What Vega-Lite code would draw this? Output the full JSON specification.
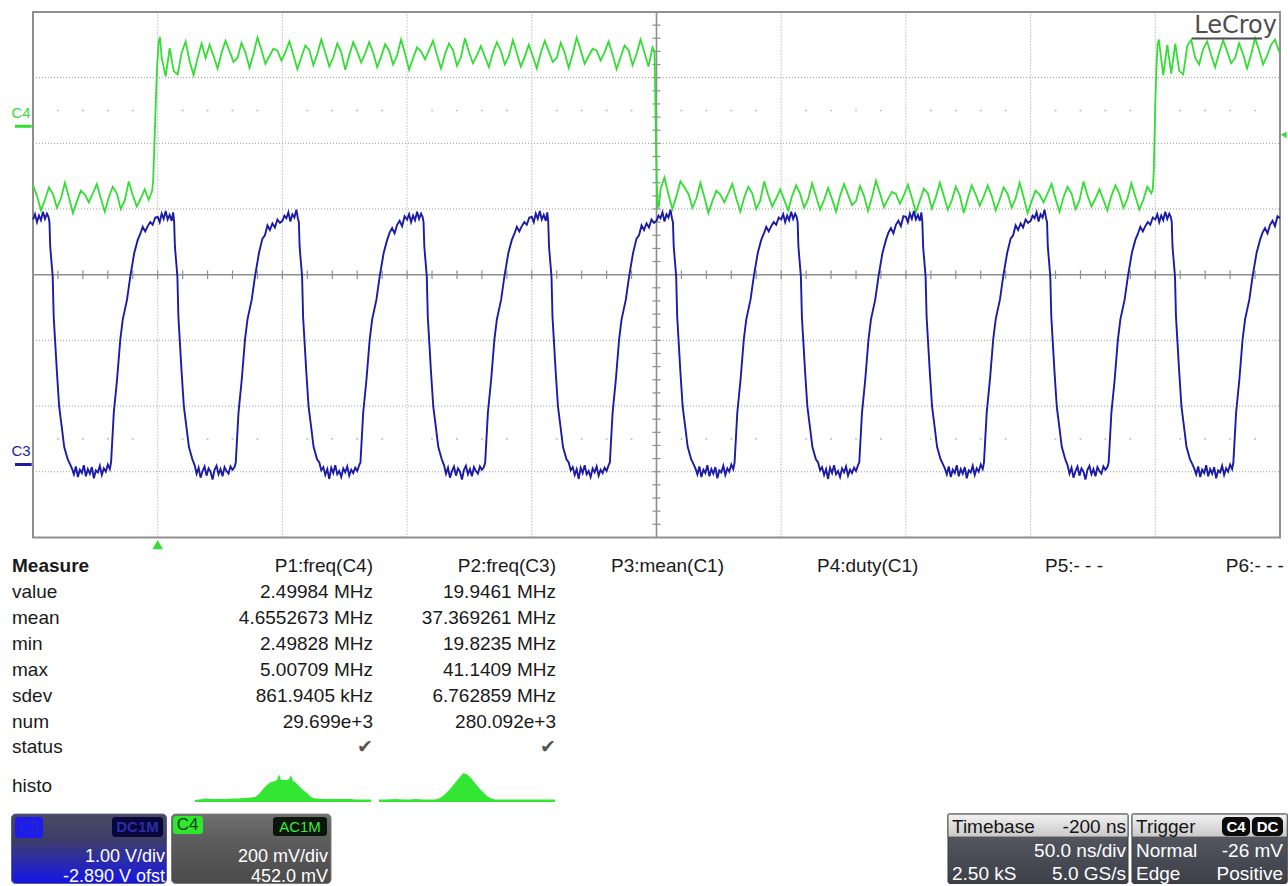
{
"$schema":"https://vega.github.io/schema/vega-lite/v6.json",
"width":1288,"height":886,
"autosize":{"type":"fit","contains":"padding"},
"padding":0,
"background":"#ffffff",
"config":{"view":{"stroke":null},"axis":{"disable":true},"text":{"font":"Liberation Sans"}},
"datasets":{
"c4":[{"t":-50,"v":1.36},{"t":-48.4,"v":1.20},{"t":-46.8,"v":0.98},{"t":-45.2,"v":1.14},{"t":-43.6,"v":1.33},{"t":-42,"v":1.23},{"t":-40.4,"v":1.02},{"t":-38.8,"v":1.16},{"t":-37.2,"v":1.40},{"t":-35.6,"v":1.18},{"t":-34,"v":0.94},{"t":-32.4,"v":1.12},{"t":-30.8,"v":1.28},{"t":-29.2,"v":1.22},{"t":-27.6,"v":1.10},{"t":-26,"v":1.24},{"t":-24.4,"v":1.38},{"t":-22.8,"v":1.16},{"t":-21.2,"v":0.96},{"t":-19.6,"v":1.18},{"t":-18,"v":1.34},{"t":-16.4,"v":1.24},{"t":-14.8,"v":1.00},{"t":-13.2,"v":1.13},{"t":-11.6,"v":1.42},{"t":-10,"v":1.21},{"t":-8.4,"v":1.04},{"t":-6.8,"v":1.16},{"t":-5.2,"v":1.30},{"t":-3.6,"v":1.14},
{"t":-2.2,"v":1.28},{"t":-1.8,"v":1.45},{"t":-1.4,"v":1.90},{"t":-1.0,"v":2.35},{"t":-0.6,"v":2.80},{"t":-0.2,"v":3.20},{"t":0.4,"v":3.55},{"t":0.9,"v":3.62},
{"t":1.6,"v":3.30},{"t":3.2,"v":3.02},{"t":4.8,"v":3.45},{"t":6.4,"v":3.10},{"t":8.0,"v":3.05},{"t":9.6,"v":3.38},{"t":11.2,"v":3.55},{"t":12.8,"v":3.25},{"t":14.4,"v":3.04},{"t":16.0,"v":3.30},{"t":17.6,"v":3.52},{"t":19.2,"v":3.30},
{"t":20.8,"v":3.50},{"t":22.4,"v":3.33},{"t":24.0,"v":3.14},{"t":25.6,"v":3.38},{"t":27.2,"v":3.56},{"t":28.8,"v":3.40},{"t":30.4,"v":3.24},{"t":32.0,"v":3.30},{"t":33.6,"v":3.53},{"t":35.2,"v":3.38},{"t":36.8,"v":3.15},{"t":38.4,"v":3.36},{"t":40.0,"v":3.61},{"t":41.6,"v":3.42},{"t":43.2,"v":3.21},{"t":44.8,"v":3.33},{"t":46.4,"v":3.44},{"t":48.0,"v":3.41},{"t":49.6,"v":3.26},{"t":51.2,"v":3.39},{"t":52.8,"v":3.55},{"t":54.4,"v":3.35},{"t":56.0,"v":3.13},{"t":57.6,"v":3.31},{"t":59.2,"v":3.49},{"t":60.8,"v":3.42},{"t":62.4,"v":3.19},{"t":64.0,"v":3.36},{"t":65.6,"v":3.58},{"t":67.2,"v":3.38},{"t":68.8,"v":3.17},{"t":70.4,"v":3.31},{"t":72.0,"v":3.52},{"t":73.6,"v":3.39},{"t":75.2,"v":3.12},{"t":76.8,"v":3.34},{"t":78.4,"v":3.54},{"t":80.0,"v":3.40},{"t":81.6,"v":3.23},{"t":83.2,"v":3.37},
{"t":84.8,"v":3.54},{"t":86.4,"v":3.38},{"t":88.0,"v":3.16},{"t":89.6,"v":3.32},{"t":91.2,"v":3.51},{"t":92.8,"v":3.41},{"t":94.4,"v":3.20},{"t":96.0,"v":3.34},{"t":97.6,"v":3.58},{"t":99.2,"v":3.36},{"t":100.8,"v":3.12},{"t":102.4,"v":3.30},{"t":104.0,"v":3.46},{"t":105.6,"v":3.40},{"t":107.2,"v":3.28},{"t":108.8,"v":3.42},{"t":110.4,"v":3.56},{"t":112.0,"v":3.34},{"t":113.6,"v":3.14},{"t":115.2,"v":3.36},{"t":116.8,"v":3.52},{"t":118.4,"v":3.42},{"t":120.0,"v":3.18},{"t":121.6,"v":3.31},{"t":123.2,"v":3.60},{"t":124.8,"v":3.39},{"t":126.4,"v":3.22},{"t":128.0,"v":3.34},{"t":129.6,"v":3.48},{"t":131.2,"v":3.32},{"t":132.8,"v":3.16},{"t":134.4,"v":3.38},{"t":136.0,"v":3.54},{"t":137.6,"v":3.41},{"t":139.2,"v":3.20},{"t":140.8,"v":3.33},{"t":142.4,"v":3.57},{"t":144.0,"v":3.37},{"t":145.6,"v":3.17},{"t":147.2,"v":3.32},
{"t":148.8,"v":3.50},{"t":150.4,"v":3.33},{"t":152.0,"v":3.14},{"t":153.6,"v":3.38},{"t":155.2,"v":3.56},{"t":156.8,"v":3.40},{"t":158.4,"v":3.24},{"t":160.0,"v":3.30},{"t":161.6,"v":3.53},{"t":163.2,"v":3.38},{"t":164.8,"v":3.15},{"t":166.4,"v":3.36},{"t":168.0,"v":3.61},{"t":169.6,"v":3.42},{"t":171.2,"v":3.21},{"t":172.8,"v":3.33},{"t":174.4,"v":3.44},{"t":176.0,"v":3.41},{"t":177.6,"v":3.26},{"t":179.2,"v":3.39},{"t":180.8,"v":3.55},{"t":182.4,"v":3.35},{"t":184.0,"v":3.13},{"t":185.6,"v":3.31},{"t":187.2,"v":3.49},{"t":188.8,"v":3.42},{"t":190.4,"v":3.19},{"t":192.0,"v":3.36},{"t":193.6,"v":3.58},{"t":195.2,"v":3.38},{"t":196.8,"v":3.17},{"t":198.4,"v":3.46},
{"t":199.2,"v":3.40},{"t":199.5,"v":2.80},{"t":199.8,"v":2.00},{"t":200.1,"v":1.40},{"t":200.5,"v":1.02},{"t":201.0,"v":1.05},
{"t":201.6,"v":1.30},{"t":203.2,"v":1.48},{"t":204.8,"v":1.22},{"t":206.4,"v":1.00},{"t":208.0,"v":1.20},{"t":209.6,"v":1.42},{"t":211.2,"v":1.33},{"t":212.8,"v":1.23},{"t":214.4,"v":1.02},{"t":216.0,"v":1.16},{"t":217.6,"v":1.40},{"t":219.2,"v":1.18},{"t":220.8,"v":0.94},{"t":222.4,"v":1.12},{"t":224.0,"v":1.28},{"t":225.6,"v":1.22},{"t":227.2,"v":1.10},{"t":228.8,"v":1.24},{"t":230.4,"v":1.38},{"t":232.0,"v":1.16},{"t":233.6,"v":0.96},{"t":235.2,"v":1.18},{"t":236.8,"v":1.34},{"t":238.4,"v":1.24},{"t":240.0,"v":1.00},{"t":241.6,"v":1.13},{"t":243.2,"v":1.42},{"t":244.8,"v":1.21},{"t":246.4,"v":1.04},{"t":248.0,"v":1.16},{"t":249.6,"v":1.30},{"t":251.2,"v":1.14},{"t":252.8,"v":0.98},{"t":254.4,"v":1.20},{"t":256.0,"v":1.36},{"t":257.6,"v":1.23},{"t":259.2,"v":1.02},{"t":260.8,"v":1.15},{"t":262.4,"v":1.39},{"t":264.0,"v":1.19},{"t":265.6,"v":0.99},{"t":267.2,"v":1.14},
{"t":268.8,"v":1.32},{"t":270.4,"v":1.15},{"t":272.0,"v":0.96},{"t":273.6,"v":1.20},{"t":275.2,"v":1.38},{"t":276.8,"v":1.22},{"t":278.4,"v":1.06},{"t":280.0,"v":1.12},{"t":281.6,"v":1.35},{"t":283.2,"v":1.20},{"t":284.8,"v":0.97},{"t":286.4,"v":1.18},{"t":288.0,"v":1.43},{"t":289.6,"v":1.24},{"t":291.2,"v":1.03},{"t":292.8,"v":1.15},{"t":294.4,"v":1.26},{"t":296.0,"v":1.23},{"t":297.6,"v":1.08},{"t":299.2,"v":1.21},{"t":300.8,"v":1.37},{"t":302.4,"v":1.17},{"t":304.0,"v":0.95},{"t":305.6,"v":1.13},{"t":307.2,"v":1.31},{"t":308.8,"v":1.24},{"t":310.4,"v":1.01},{"t":312.0,"v":1.18},{"t":313.6,"v":1.40},{"t":315.2,"v":1.20},{"t":316.8,"v":0.99},{"t":318.4,"v":1.13},{"t":320.0,"v":1.34},{"t":321.6,"v":1.21},{"t":323.2,"v":0.94},{"t":324.8,"v":1.16},{"t":326.4,"v":1.36},{"t":328.0,"v":1.22},{"t":329.6,"v":1.05},{"t":331.2,"v":1.19},
{"t":332.8,"v":1.36},{"t":334.4,"v":1.20},{"t":336.0,"v":0.98},{"t":337.6,"v":1.14},{"t":339.2,"v":1.33},{"t":340.8,"v":1.23},{"t":342.4,"v":1.02},{"t":344.0,"v":1.16},{"t":345.6,"v":1.40},{"t":347.2,"v":1.18},{"t":348.8,"v":0.94},{"t":350.4,"v":1.12},{"t":352.0,"v":1.28},{"t":353.6,"v":1.22},{"t":355.2,"v":1.10},{"t":356.8,"v":1.24},{"t":358.4,"v":1.38},{"t":360.0,"v":1.16},{"t":361.6,"v":0.96},{"t":363.2,"v":1.18},{"t":364.8,"v":1.34},{"t":366.4,"v":1.24},{"t":368.0,"v":1.00},{"t":369.6,"v":1.13},{"t":371.2,"v":1.42},{"t":372.8,"v":1.21},{"t":374.4,"v":1.04},{"t":376.0,"v":1.16},{"t":377.6,"v":1.30},{"t":379.2,"v":1.14},{"t":380.8,"v":0.98},{"t":382.4,"v":1.20},{"t":384.0,"v":1.36},{"t":385.6,"v":1.23},{"t":387.2,"v":1.02},{"t":388.8,"v":1.15},{"t":390.4,"v":1.39},{"t":392.0,"v":1.19},{"t":393.6,"v":0.99},{"t":395.2,"v":1.14},{"t":396.8,"v":1.34},{"t":398.4,"v":1.24},
{"t":399.0,"v":1.30},{"t":399.4,"v":1.60},{"t":399.7,"v":2.10},{"t":400.0,"v":2.60},{"t":400.4,"v":3.10},{"t":400.9,"v":3.50},{"t":401.4,"v":3.58},
{"t":403.2,"v":3.04},{"t":404.8,"v":3.50},{"t":406.4,"v":3.06},{"t":408.0,"v":3.52},{"t":409.6,"v":3.10},{"t":411.2,"v":3.05},{"t":412.8,"v":3.48},{"t":414.4,"v":3.58},{"t":416.0,"v":3.30},{"t":417.6,"v":3.20},{"t":419.2,"v":3.44},{"t":420.8,"v":3.55},{"t":422.4,"v":3.34},{"t":424.0,"v":3.16},{"t":425.6,"v":3.38},{"t":427.2,"v":3.57},{"t":428.8,"v":3.40},{"t":430.4,"v":3.22},{"t":432.0,"v":3.30},{"t":433.6,"v":3.52},{"t":435.2,"v":3.36},{"t":436.8,"v":3.14},{"t":438.4,"v":3.35},{"t":440.0,"v":3.60},{"t":441.6,"v":3.42},{"t":443.2,"v":3.20},{"t":444.8,"v":3.33},{"t":446.4,"v":3.50},{"t":448.0,"v":3.58},{"t":449.6,"v":3.40},{"t":450,"v":3.38}],
"c3":[{"t":-50,"v":0.84},{"t":-49.2,"v":0.92},{"t":-48.4,"v":0.80},{"t":-47.6,"v":0.90},{"t":-46.8,"v":0.83},{"t":-46.0,"v":0.96},{"t":-45.2,"v":0.85},{"t":-44.4,"v":0.93},{"t":-43.8,"v":0.88},
{"t":-43.4,"v":0.80},{"t":-43.1,"v":0.43},{"t":-42.1,"v":-0.03},{"t":-41.7,"v":-0.64},{"t":-41.1,"v":-1.03},{"t":-40.4,"v":-1.49},{"t":-39.5,"v":-2.01},{"t":-38.5,"v":-2.31},{"t":-37.5,"v":-2.62},{"t":-36.1,"v":-2.81},
{"t":-35.2,"v":-2.88},{"t":-34.4,"v":-2.95},{"t":-33.6,"v":-3.04},{"t":-32.8,"v":-2.92},{"t":-32.0,"v":-3.08},{"t":-31.2,"v":-2.97},{"t":-30.4,"v":-3.02},{"t":-29.6,"v":-2.90},{"t":-28.8,"v":-3.07},{"t":-28.0,"v":-2.96},{"t":-27.2,"v":-3.03},{"t":-26.4,"v":-2.93},{"t":-25.6,"v":-3.10},{"t":-24.8,"v":-2.98},{"t":-24.0,"v":-3.01},{"t":-23.2,"v":-2.91},{"t":-22.4,"v":-3.05},{"t":-21.6,"v":-2.95},{"t":-20.8,"v":-3.00},{"t":-20.0,"v":-2.89},{"t":-19.2,"v":-2.96},
{"t":-18.7,"v":-2.86},{"t":-17.6,"v":-2.10},{"t":-16.3,"v":-1.60},{"t":-15.0,"v":-0.99},{"t":-14.0,"v":-0.68},{"t":-12.3,"v":-0.38},{"t":-11.0,"v":-0.03},{"t":-9.4,"v":0.33},{"t":-8.0,"v":0.53},{"t":-7.0,"v":0.62},{"t":-6.0,"v":0.73},{"t":-5.0,"v":0.66},{"t":-4.0,"v":0.74},{"t":-3.0,"v":0.80},{"t":-2.0,"v":0.76},{"t":-1.0,"v":0.87},
{"t":0,"v":0.88},{"t":0.8,"v":0.80},{"t":1.6,"v":0.93},{"t":2.4,"v":0.85},{"t":3.2,"v":0.97},{"t":4.0,"v":0.84},{"t":4.8,"v":0.91},{"t":5.6,"v":0.82},{"t":6.2,"v":0.95},
{"t":6.6,"v":0.80},{"t":6.9,"v":0.43},{"t":7.9,"v":-0.03},{"t":8.3,"v":-0.64},{"t":8.9,"v":-1.03},{"t":9.6,"v":-1.49},{"t":10.5,"v":-2.01},{"t":11.5,"v":-2.31},{"t":12.5,"v":-2.62},{"t":13.9,"v":-2.81},
{"t":14.8,"v":-2.90},{"t":15.6,"v":-3.03},{"t":16.4,"v":-2.94},{"t":17.2,"v":-3.09},{"t":18.0,"v":-2.99},{"t":18.8,"v":-2.92},{"t":19.6,"v":-3.06},{"t":20.4,"v":-2.95},{"t":21.2,"v":-3.00},{"t":22.0,"v":-3.12},{"t":22.8,"v":-2.97},{"t":23.6,"v":-2.91},{"t":24.4,"v":-3.04},{"t":25.2,"v":-2.96},{"t":26.0,"v":-3.07},{"t":26.8,"v":-2.93},{"t":27.6,"v":-2.99},{"t":28.4,"v":-3.03},{"t":29.2,"v":-2.92},{"t":30.0,"v":-2.97},{"t":30.8,"v":-2.93},
{"t":31.3,"v":-2.86},{"t":32.4,"v":-2.10},{"t":33.7,"v":-1.60},{"t":35.0,"v":-0.99},{"t":36.0,"v":-0.68},{"t":37.7,"v":-0.38},{"t":39.0,"v":-0.03},{"t":40.6,"v":0.33},{"t":42.0,"v":0.55},{"t":43.0,"v":0.60},{"t":44.0,"v":0.75},{"t":45.0,"v":0.68},{"t":46.0,"v":0.78},{"t":47.0,"v":0.72},{"t":48.0,"v":0.84},{"t":49.0,"v":0.79},
{"t":50,"v":0.82},{"t":50.8,"v":0.90},{"t":51.6,"v":0.86},{"t":52.4,"v":0.95},{"t":53.2,"v":0.81},{"t":54.0,"v":0.92},{"t":54.8,"v":0.87},{"t":55.6,"v":0.99},{"t":56.2,"v":0.86},
{"t":56.6,"v":0.80},{"t":56.9,"v":0.43},{"t":57.9,"v":-0.03},{"t":58.3,"v":-0.64},{"t":58.9,"v":-1.03},{"t":59.6,"v":-1.49},{"t":60.5,"v":-2.01},{"t":61.5,"v":-2.31},{"t":62.5,"v":-2.62},{"t":63.9,"v":-2.81},
{"t":64.8,"v":-2.86},{"t":65.6,"v":-2.98},{"t":66.4,"v":-2.93},{"t":67.2,"v":-3.05},{"t":68.0,"v":-2.96},{"t":68.8,"v":-3.11},{"t":69.6,"v":-2.94},{"t":70.4,"v":-3.02},{"t":71.2,"v":-2.90},{"t":72.0,"v":-3.04},{"t":72.8,"v":-2.99},{"t":73.6,"v":-3.08},{"t":74.4,"v":-2.95},{"t":75.2,"v":-3.01},{"t":76.0,"v":-2.92},{"t":76.8,"v":-3.06},{"t":77.6,"v":-2.97},{"t":78.4,"v":-3.02},{"t":79.2,"v":-2.94},{"t":80.0,"v":-2.99},{"t":80.8,"v":-2.90},
{"t":81.3,"v":-2.86},{"t":82.4,"v":-2.10},{"t":83.7,"v":-1.60},{"t":85.0,"v":-0.99},{"t":86.0,"v":-0.68},{"t":87.7,"v":-0.38},{"t":89.0,"v":-0.03},{"t":90.6,"v":0.33},{"t":92.0,"v":0.53},{"t":93.0,"v":0.64},{"t":94.0,"v":0.71},{"t":95.0,"v":0.63},{"t":96.0,"v":0.76},{"t":97.0,"v":0.82},{"t":98.0,"v":0.74},{"t":99.0,"v":0.89},
{"t":100,"v":0.84},{"t":100.8,"v":0.92},{"t":101.6,"v":0.80},{"t":102.4,"v":0.90},{"t":103.2,"v":0.83},{"t":104.0,"v":0.96},{"t":104.8,"v":0.85},{"t":105.6,"v":0.93},{"t":106.2,"v":0.88},
{"t":106.6,"v":0.80},{"t":106.9,"v":0.43},{"t":107.9,"v":-0.03},{"t":108.3,"v":-0.64},{"t":108.9,"v":-1.03},{"t":109.6,"v":-1.49},{"t":110.5,"v":-2.01},{"t":111.5,"v":-2.31},{"t":112.5,"v":-2.62},{"t":113.9,"v":-2.81},
{"t":114.8,"v":-2.90},{"t":115.6,"v":-3.03},{"t":116.4,"v":-2.94},{"t":117.2,"v":-3.09},{"t":118.0,"v":-2.99},{"t":118.8,"v":-2.92},{"t":119.6,"v":-3.06},{"t":120.4,"v":-2.95},{"t":121.2,"v":-3.00},{"t":122.0,"v":-3.12},{"t":122.8,"v":-2.97},{"t":123.6,"v":-2.91},{"t":124.4,"v":-3.04},{"t":125.2,"v":-2.96},{"t":126.0,"v":-3.07},{"t":126.8,"v":-2.93},{"t":127.6,"v":-2.99},{"t":128.4,"v":-3.03},{"t":129.2,"v":-2.92},{"t":130.0,"v":-2.97},{"t":130.8,"v":-2.93},
{"t":131.3,"v":-2.86},{"t":132.4,"v":-2.10},{"t":133.7,"v":-1.60},{"t":135.0,"v":-0.99},{"t":136.0,"v":-0.68},{"t":137.7,"v":-0.38},{"t":139.0,"v":-0.03},{"t":140.6,"v":0.33},{"t":142.0,"v":0.53},{"t":143.0,"v":0.62},{"t":144.0,"v":0.73},{"t":145.0,"v":0.66},{"t":146.0,"v":0.74},{"t":147.0,"v":0.80},{"t":148.0,"v":0.76},{"t":149.0,"v":0.87},
{"t":150,"v":0.88},{"t":150.8,"v":0.80},{"t":151.6,"v":0.93},{"t":152.4,"v":0.85},{"t":153.2,"v":0.97},{"t":154.0,"v":0.84},{"t":154.8,"v":0.91},{"t":155.6,"v":0.82},{"t":156.2,"v":0.95},
{"t":156.6,"v":0.80},{"t":156.9,"v":0.43},{"t":157.9,"v":-0.03},{"t":158.3,"v":-0.64},{"t":158.9,"v":-1.03},{"t":159.6,"v":-1.49},{"t":160.5,"v":-2.01},{"t":161.5,"v":-2.31},{"t":162.5,"v":-2.62},{"t":163.9,"v":-2.81},
{"t":164.8,"v":-2.86},{"t":165.6,"v":-2.98},{"t":166.4,"v":-2.93},{"t":167.2,"v":-3.05},{"t":168.0,"v":-2.96},{"t":168.8,"v":-3.11},{"t":169.6,"v":-2.94},{"t":170.4,"v":-3.02},{"t":171.2,"v":-2.90},{"t":172.0,"v":-3.04},{"t":172.8,"v":-2.99},{"t":173.6,"v":-3.08},{"t":174.4,"v":-2.95},{"t":175.2,"v":-3.01},{"t":176.0,"v":-2.92},{"t":176.8,"v":-3.06},{"t":177.6,"v":-2.97},{"t":178.4,"v":-3.02},{"t":179.2,"v":-2.94},{"t":180.0,"v":-2.99},{"t":180.8,"v":-2.90},
{"t":181.3,"v":-2.86},{"t":182.4,"v":-2.10},{"t":183.7,"v":-1.60},{"t":185.0,"v":-0.99},{"t":186.0,"v":-0.68},{"t":187.7,"v":-0.38},{"t":189.0,"v":-0.03},{"t":190.6,"v":0.33},{"t":192.0,"v":0.55},{"t":193.0,"v":0.60},{"t":194.0,"v":0.75},{"t":195.0,"v":0.68},{"t":196.0,"v":0.78},{"t":197.0,"v":0.72},{"t":198.0,"v":0.84},{"t":199.0,"v":0.79},
{"t":200,"v":0.82},{"t":200.8,"v":0.90},{"t":201.6,"v":0.86},{"t":202.4,"v":0.95},{"t":203.2,"v":0.81},{"t":204.0,"v":0.92},{"t":204.8,"v":0.87},{"t":205.6,"v":0.99},{"t":206.2,"v":0.86},
{"t":206.6,"v":0.80},{"t":206.9,"v":0.43},{"t":207.9,"v":-0.03},{"t":208.3,"v":-0.64},{"t":208.9,"v":-1.03},{"t":209.6,"v":-1.49},{"t":210.5,"v":-2.01},{"t":211.5,"v":-2.31},{"t":212.5,"v":-2.62},{"t":213.9,"v":-2.81},
{"t":214.8,"v":-2.88},{"t":215.6,"v":-2.95},{"t":216.4,"v":-3.04},{"t":217.2,"v":-2.92},{"t":218.0,"v":-3.08},{"t":218.8,"v":-2.97},{"t":219.6,"v":-3.02},{"t":220.4,"v":-2.90},{"t":221.2,"v":-3.07},{"t":222.0,"v":-2.96},{"t":222.8,"v":-3.03},{"t":223.6,"v":-2.93},{"t":224.4,"v":-3.10},{"t":225.2,"v":-2.98},{"t":226.0,"v":-3.01},{"t":226.8,"v":-2.91},{"t":227.6,"v":-3.05},{"t":228.4,"v":-2.95},{"t":229.2,"v":-3.00},{"t":230.0,"v":-2.89},{"t":230.8,"v":-2.96},
{"t":231.3,"v":-2.86},{"t":232.4,"v":-2.10},{"t":233.7,"v":-1.60},{"t":235.0,"v":-0.99},{"t":236.0,"v":-0.68},{"t":237.7,"v":-0.38},{"t":239.0,"v":-0.03},{"t":240.6,"v":0.33},{"t":242.0,"v":0.53},{"t":243.0,"v":0.62},{"t":244.0,"v":0.73},{"t":245.0,"v":0.66},{"t":246.0,"v":0.74},{"t":247.0,"v":0.80},{"t":248.0,"v":0.76},{"t":249.0,"v":0.87},
{"t":250,"v":0.84},{"t":250.8,"v":0.92},{"t":251.6,"v":0.80},{"t":252.4,"v":0.90},{"t":253.2,"v":0.83},{"t":254.0,"v":0.96},{"t":254.8,"v":0.85},{"t":255.6,"v":0.93},{"t":256.2,"v":0.88},
{"t":256.6,"v":0.80},{"t":256.9,"v":0.43},{"t":257.9,"v":-0.03},{"t":258.3,"v":-0.64},{"t":258.9,"v":-1.03},{"t":259.6,"v":-1.49},{"t":260.5,"v":-2.01},{"t":261.5,"v":-2.31},{"t":262.5,"v":-2.62},{"t":263.9,"v":-2.81},
{"t":264.8,"v":-2.86},{"t":265.6,"v":-2.98},{"t":266.4,"v":-2.93},{"t":267.2,"v":-3.05},{"t":268.0,"v":-2.96},{"t":268.8,"v":-3.11},{"t":269.6,"v":-2.94},{"t":270.4,"v":-3.02},{"t":271.2,"v":-2.90},{"t":272.0,"v":-3.04},{"t":272.8,"v":-2.99},{"t":273.6,"v":-3.08},{"t":274.4,"v":-2.95},{"t":275.2,"v":-3.01},{"t":276.0,"v":-2.92},{"t":276.8,"v":-3.06},{"t":277.6,"v":-2.97},{"t":278.4,"v":-3.02},{"t":279.2,"v":-2.94},{"t":280.0,"v":-2.99},{"t":280.8,"v":-2.90},
{"t":281.3,"v":-2.86},{"t":282.4,"v":-2.10},{"t":283.7,"v":-1.60},{"t":285.0,"v":-0.99},{"t":286.0,"v":-0.68},{"t":287.7,"v":-0.38},{"t":289.0,"v":-0.03},{"t":290.6,"v":0.33},{"t":292.0,"v":0.53},{"t":293.0,"v":0.64},{"t":294.0,"v":0.71},{"t":295.0,"v":0.63},{"t":296.0,"v":0.76},{"t":297.0,"v":0.82},{"t":298.0,"v":0.74},{"t":299.0,"v":0.89},
{"t":300,"v":0.88},{"t":300.8,"v":0.80},{"t":301.6,"v":0.93},{"t":302.4,"v":0.85},{"t":303.2,"v":0.97},{"t":304.0,"v":0.84},{"t":304.8,"v":0.91},{"t":305.6,"v":0.82},{"t":306.2,"v":0.95},
{"t":306.6,"v":0.80},{"t":306.9,"v":0.43},{"t":307.9,"v":-0.03},{"t":308.3,"v":-0.64},{"t":308.9,"v":-1.03},{"t":309.6,"v":-1.49},{"t":310.5,"v":-2.01},{"t":311.5,"v":-2.31},{"t":312.5,"v":-2.62},{"t":313.9,"v":-2.81},
{"t":314.8,"v":-2.88},{"t":315.6,"v":-2.95},{"t":316.4,"v":-3.04},{"t":317.2,"v":-2.92},{"t":318.0,"v":-3.08},{"t":318.8,"v":-2.97},{"t":319.6,"v":-3.02},{"t":320.4,"v":-2.90},{"t":321.2,"v":-3.07},{"t":322.0,"v":-2.96},{"t":322.8,"v":-3.03},{"t":323.6,"v":-2.93},{"t":324.4,"v":-3.10},{"t":325.2,"v":-2.98},{"t":326.0,"v":-3.01},{"t":326.8,"v":-2.91},{"t":327.6,"v":-3.05},{"t":328.4,"v":-2.95},{"t":329.2,"v":-3.00},{"t":330.0,"v":-2.89},{"t":330.8,"v":-2.96},
{"t":331.3,"v":-2.86},{"t":332.4,"v":-2.10},{"t":333.7,"v":-1.60},{"t":335.0,"v":-0.99},{"t":336.0,"v":-0.68},{"t":337.7,"v":-0.38},{"t":339.0,"v":-0.03},{"t":340.6,"v":0.33},{"t":342.0,"v":0.55},{"t":343.0,"v":0.60},{"t":344.0,"v":0.75},{"t":345.0,"v":0.68},{"t":346.0,"v":0.78},{"t":347.0,"v":0.72},{"t":348.0,"v":0.84},{"t":349.0,"v":0.79},
{"t":350,"v":0.82},{"t":350.8,"v":0.90},{"t":351.6,"v":0.86},{"t":352.4,"v":0.95},{"t":353.2,"v":0.81},{"t":354.0,"v":0.92},{"t":354.8,"v":0.87},{"t":355.6,"v":0.99},{"t":356.2,"v":0.86},
{"t":356.6,"v":0.80},{"t":356.9,"v":0.43},{"t":357.9,"v":-0.03},{"t":358.3,"v":-0.64},{"t":358.9,"v":-1.03},{"t":359.6,"v":-1.49},{"t":360.5,"v":-2.01},{"t":361.5,"v":-2.31},{"t":362.5,"v":-2.62},{"t":363.9,"v":-2.81},
{"t":364.8,"v":-2.90},{"t":365.6,"v":-3.03},{"t":366.4,"v":-2.94},{"t":367.2,"v":-3.09},{"t":368.0,"v":-2.99},{"t":368.8,"v":-2.92},{"t":369.6,"v":-3.06},{"t":370.4,"v":-2.95},{"t":371.2,"v":-3.00},{"t":372.0,"v":-3.12},{"t":372.8,"v":-2.97},{"t":373.6,"v":-2.91},{"t":374.4,"v":-3.04},{"t":375.2,"v":-2.96},{"t":376.0,"v":-3.07},{"t":376.8,"v":-2.93},{"t":377.6,"v":-2.99},{"t":378.4,"v":-3.03},{"t":379.2,"v":-2.92},{"t":380.0,"v":-2.97},{"t":380.8,"v":-2.93},
{"t":381.3,"v":-2.86},{"t":382.4,"v":-2.10},{"t":383.7,"v":-1.60},{"t":385.0,"v":-0.99},{"t":386.0,"v":-0.68},{"t":387.7,"v":-0.38},{"t":389.0,"v":-0.03},{"t":390.6,"v":0.33},{"t":392.0,"v":0.53},{"t":393.0,"v":0.62},{"t":394.0,"v":0.73},{"t":395.0,"v":0.66},{"t":396.0,"v":0.74},{"t":397.0,"v":0.80},{"t":398.0,"v":0.76},{"t":399.0,"v":0.87},
{"t":400,"v":0.84},{"t":400.8,"v":0.92},{"t":401.6,"v":0.80},{"t":402.4,"v":0.90},{"t":403.2,"v":0.83},{"t":404.0,"v":0.96},{"t":404.8,"v":0.85},{"t":405.6,"v":0.93},{"t":406.2,"v":0.88},
{"t":406.6,"v":0.80},{"t":406.9,"v":0.43},{"t":407.9,"v":-0.03},{"t":408.3,"v":-0.64},{"t":408.9,"v":-1.03},{"t":409.6,"v":-1.49},{"t":410.5,"v":-2.01},{"t":411.5,"v":-2.31},{"t":412.5,"v":-2.62},{"t":413.9,"v":-2.81},
{"t":414.8,"v":-2.88},{"t":415.6,"v":-2.95},{"t":416.4,"v":-3.04},{"t":417.2,"v":-2.92},{"t":418.0,"v":-3.08},{"t":418.8,"v":-2.97},{"t":419.6,"v":-3.02},{"t":420.4,"v":-2.90},{"t":421.2,"v":-3.07},{"t":422.0,"v":-2.96},{"t":422.8,"v":-3.03},{"t":423.6,"v":-2.93},{"t":424.4,"v":-3.10},{"t":425.2,"v":-2.98},{"t":426.0,"v":-3.01},{"t":426.8,"v":-2.91},{"t":427.6,"v":-3.05},{"t":428.4,"v":-2.95},{"t":429.2,"v":-3.00},{"t":430.0,"v":-2.89},{"t":430.8,"v":-2.96},
{"t":431.3,"v":-2.86},{"t":432.4,"v":-2.10},{"t":433.7,"v":-1.60},{"t":435.0,"v":-0.99},{"t":436.0,"v":-0.68},{"t":437.7,"v":-0.38},{"t":439.0,"v":-0.03},{"t":440.6,"v":0.33},{"t":442.0,"v":0.53},{"t":443.0,"v":0.64},{"t":444.0,"v":0.71},{"t":445.0,"v":0.63},{"t":446.0,"v":0.76},{"t":447.0,"v":0.82},{"t":448.0,"v":0.74},{"t":449.0,"v":0.89},{"t":450,"v":0.86}],
"vgrid":[{"t":0},{"t":50},{"t":100},{"t":150},{"t":250},{"t":300},{"t":350},{"t":400}],
"hgrid":[{"v":-3},{"v":-2},{"v":-1},{"v":1},{"v":2},{"v":3}],
"xt":[{"t":-40},{"t":-30},{"t":-20},{"t":-10},{"t":0},{"t":10},{"t":20},{"t":30},{"t":40},{"t":50},{"t":60},{"t":70},{"t":80},{"t":90},{"t":100},{"t":110},{"t":120},{"t":130},{"t":140},{"t":150},{"t":160},{"t":170},{"t":180},{"t":190},{"t":210},{"t":220},{"t":230},{"t":240},{"t":250},{"t":260},{"t":270},{"t":280},{"t":290},{"t":300},{"t":310},{"t":320},{"t":330},{"t":340},{"t":350},{"t":360},{"t":370},{"t":380},{"t":390},{"t":400},{"t":410},{"t":420},{"t":430},{"t":440}],
"yt":[{"v":-3.8},{"v":-3.6},{"v":-3.4},{"v":-3.2},{"v":-3},{"v":-2.8},{"v":-2.6},{"v":-2.4},{"v":-2.2},{"v":-2},{"v":-1.8},{"v":-1.6},{"v":-1.4},{"v":-1.2},{"v":-1},{"v":-0.8},{"v":-0.6},{"v":-0.4},{"v":-0.2},{"v":0.2},{"v":0.4},{"v":0.6},{"v":0.8},{"v":1},{"v":1.2},{"v":1.4},{"v":1.6},{"v":1.8},{"v":2},{"v":2.2},{"v":2.4},{"v":2.6},{"v":2.8},{"v":3},{"v":3.2},{"v":3.4},{"v":3.6},{"v":3.8}],
"dots":[{"t":-40},{"t":-30},{"t":-20},{"t":-10},{"t":10},{"t":20},{"t":30},{"t":40},{"t":60},{"t":70},{"t":80},{"t":90},{"t":110},{"t":120},{"t":130},{"t":140},{"t":160},{"t":170},{"t":180},{"t":190},{"t":210},{"t":220},{"t":230},{"t":240},{"t":260},{"t":270},{"t":280},{"t":290},{"t":310},{"t":320},{"t":330},{"t":340},{"t":360},{"t":370},{"t":380},{"t":390},{"t":410},{"t":420},{"t":430},{"t":440}],
"chan":[{"ch":"C4","lvl":2.26},{"ch":"C3","lvl":-2.89}],
"trig":[{"t":0,"lvl":2.13}],
"table":[{"r":0,"lab":"Measure","p1":"P1:freq(C4)","p2":"P2:freq(C3)","p3":"P3:mean(C1)","p4":"P4:duty(C1)","p5":"P5:- - -","p6":"P6:- - -"},
{"r":1,"lab":"value","p1":"2.49984 MHz","p2":"19.9461 MHz"},
{"r":2,"lab":"mean","p1":"4.6552673 MHz","p2":"37.369261 MHz"},
{"r":3,"lab":"min","p1":"2.49828 MHz","p2":"19.8235 MHz"},
{"r":4,"lab":"max","p1":"5.00709 MHz","p2":"41.1409 MHz"},
{"r":5,"lab":"sdev","p1":"861.9405 kHz","p2":"6.762859 MHz"},
{"r":6,"lab":"num","p1":"29.699e+3","p2":"280.092e+3"},
{"r":7,"lab":"status","p1":"✔","p2":"✔"},
{"r":8.5,"lab":"histo"}],
"hist":[{"h":"P1","b":0,"n":2},{"h":"P1","b":1,"n":2.5},{"h":"P1","b":2,"n":3},{"h":"P1","b":3,"n":3.5},{"h":"P1","b":4,"n":3},{"h":"P1","b":5,"n":3},{"h":"P1","b":6,"n":3},{"h":"P1","b":7,"n":3},{"h":"P1","b":8,"n":3},{"h":"P1","b":9,"n":3.5},{"h":"P1","b":10,"n":3.5},{"h":"P1","b":11,"n":3.5},{"h":"P1","b":12,"n":4},{"h":"P1","b":13,"n":4},{"h":"P1","b":14,"n":4.5},{"h":"P1","b":15,"n":5},{"h":"P1","b":16,"n":8},{"h":"P1","b":17,"n":13},{"h":"P1","b":18,"n":17},{"h":"P1","b":19,"n":20},{"h":"P1","b":20,"n":21},{"h":"P1","b":20.5,"n":22},{"h":"P1","b":21,"n":28},{"h":"P1","b":21.5,"n":22},{"h":"P1","b":22,"n":22},{"h":"P1","b":23,"n":22},{"h":"P1","b":23.5,"n":23},{"h":"P1","b":24,"n":27},{"h":"P1","b":24.5,"n":21},{"h":"P1","b":25,"n":20},{"h":"P1","b":26,"n":16},{"h":"P1","b":27,"n":12},{"h":"P1","b":28,"n":9},{"h":"P1","b":29,"n":5},{"h":"P1","b":30,"n":3.5},{"h":"P1","b":31,"n":3.5},{"h":"P1","b":32,"n":3},{"h":"P1","b":33,"n":3},{"h":"P1","b":34,"n":3},{"h":"P1","b":35,"n":3},{"h":"P1","b":36,"n":3},{"h":"P1","b":37,"n":3},{"h":"P1","b":38,"n":3},{"h":"P1","b":39,"n":3},{"h":"P1","b":40,"n":2.5},{"h":"P1","b":41,"n":2.5},{"h":"P1","b":42,"n":2.5},{"h":"P1","b":43,"n":2.5},{"h":"P1","b":44,"n":2.5},
{"h":"P2","b":46,"n":2.5},{"h":"P2","b":48,"n":2.5},{"h":"P2","b":50,"n":3},{"h":"P2","b":52,"n":2.5},{"h":"P2","b":54,"n":2.5},{"h":"P2","b":55,"n":3},{"h":"P2","b":57,"n":2.5},{"h":"P2","b":59,"n":2.5},{"h":"P2","b":60,"n":2.5},{"h":"P2","b":61,"n":3.5},{"h":"P2","b":62,"n":6},{"h":"P2","b":63,"n":10},{"h":"P2","b":64,"n":14},{"h":"P2","b":65,"n":19},{"h":"P2","b":66,"n":24},{"h":"P2","b":67,"n":29},{"h":"P2","b":68,"n":28},{"h":"P2","b":69,"n":24},{"h":"P2","b":70,"n":19},{"h":"P2","b":71,"n":14},{"h":"P2","b":72,"n":10},{"h":"P2","b":73,"n":6},{"h":"P2","b":74,"n":3.5},{"h":"P2","b":75,"n":2.5},{"h":"P2","b":78,"n":2.5},{"h":"P2","b":81,"n":2.5},{"h":"P2","b":84,"n":2.5},{"h":"P2","b":87,"n":2.5},{"h":"P2","b":90,"n":2.5}]
},
"resolve":{"scale":{"x":"independent","y":"independent"}},
"layer":[
{"layer":[
{"data":{"name":"vgrid"},"mark":{"type":"rule","color":"#9a9a9a","strokeWidth":1,"strokeDash":[1,2]},"encoding":{"x":{"field":"t","type":"quantitative","scale":{"domain":[-63.23,453.21],"nice":false,"zero":false}},"y":{"datum":-4,"type":"quantitative","scale":{"domain":[-9.2928,4.1825],"nice":false,"zero":false}},"y2":{"datum":4}}},
{"data":{"name":"hgrid"},"mark":{"type":"rule","color":"#9a9a9a","strokeWidth":1,"strokeDash":[1,2]},"encoding":{"y":{"field":"v","type":"quantitative"},"x":{"datum":-50,"type":"quantitative"},"x2":{"datum":450}}},
{"data":{"name":"dots"},"mark":{"type":"point","shape":"square","size":3,"filled":true,"color":"#bdbdbd","opacity":1},"encoding":{"x":{"field":"t","type":"quantitative"},"y":{"datum":2.5,"type":"quantitative"}}},
{"data":{"name":"dots"},"mark":{"type":"point","shape":"square","size":3,"filled":true,"color":"#bdbdbd","opacity":1},"encoding":{"x":{"field":"t","type":"quantitative"},"y":{"datum":-2.5,"type":"quantitative"}}},
{"data":{"values":[{"t":200}]},"mark":{"type":"rule","color":"#8e8e8e","strokeWidth":1.6},"encoding":{"x":{"field":"t","type":"quantitative"},"y":{"datum":-4,"type":"quantitative"},"y2":{"datum":4}}},
{"data":{"values":[{"v":0}]},"mark":{"type":"rule","color":"#8e8e8e","strokeWidth":1.6},"encoding":{"y":{"field":"v","type":"quantitative"},"x":{"datum":-50,"type":"quantitative"},"x2":{"datum":450}}},
{"data":{"name":"xt"},"mark":{"type":"rule","color":"#8e8e8e","strokeWidth":1.2},"encoding":{"x":{"field":"t","type":"quantitative"},"y":{"datum":-0.065,"type":"quantitative"},"y2":{"datum":0.065}}},
{"data":{"name":"yt"},"mark":{"type":"rule","color":"#8e8e8e","strokeWidth":1.2},"encoding":{"y":{"field":"v","type":"quantitative"},"x":{"datum":198.4,"type":"quantitative"},"x2":{"datum":201.6}}},
{"data":{"values":[{}]},"mark":{"type":"rect","fill":"transparent","stroke":"#8f8f8f","strokeWidth":2},"encoding":{"x":{"datum":-50,"type":"quantitative"},"x2":{"datum":450},"y":{"datum":-4,"type":"quantitative"},"y2":{"datum":4}}},
{"data":{"name":"c4"},"mark":{"type":"line","color":"#33dd33","strokeWidth":1.8},"encoding":{"x":{"field":"t","type":"quantitative"},"y":{"field":"v","type":"quantitative"}}},
{"data":{"name":"c3"},"mark":{"type":"line","color":"#1b1ba6","strokeWidth":1.9},"encoding":{"x":{"field":"t","type":"quantitative"},"y":{"field":"v","type":"quantitative"}}},
{"data":{"name":"chan"},"mark":{"type":"rule","strokeWidth":3},"encoding":{"x":{"datum":-57.22,"type":"quantitative"},"x2":{"datum":-50.52},"y":{"field":"lvl","type":"quantitative"},"color":{"field":"ch","type":"nominal","scale":{"domain":["C3","C4"],"range":["#1b1ba6","#33dd33"]},"legend":null}}},
{"data":{"name":"chan"},"mark":{"type":"text","fontSize":15,"dy":-13,"align":"center","baseline":"middle"},"encoding":{"x":{"datum":-54.81,"type":"quantitative"},"y":{"field":"lvl","type":"quantitative"},"text":{"field":"ch"},"color":{"field":"ch","type":"nominal","scale":{"domain":["C3","C4"],"range":["#1b1ba6","#33dd33"]},"legend":null}}},
{"data":{"name":"trig"},"mark":{"type":"point","shape":"triangle-up","filled":true,"size":110,"color":"#33dd33","opacity":1},"encoding":{"x":{"field":"t","type":"quantitative"},"y":{"datum":-4.11,"type":"quantitative"}}},
{"data":{"name":"trig"},"mark":{"type":"point","shape":"triangle-left","filled":true,"size":45,"color":"#33dd33","opacity":1},"encoding":{"x":{"datum":451.5,"type":"quantitative"},"y":{"field":"lvl","type":"quantitative"}}},
{"data":{"values":[{"s":"LeCroy"}]},"mark":{"type":"text","font":"DejaVu Sans","fontSize":24,"align":"right","baseline":"alphabetic","color":"#4d4d4d"},"encoding":{"x":{"datum":448.8,"type":"quantitative"},"y":{"datum":3.673,"type":"quantitative"},"text":{"field":"s"}}},
{"data":{"values":[{}]},"mark":{"type":"rule","color":"#4d4d4d","strokeWidth":2},"encoding":{"x":{"datum":414.72,"type":"quantitative"},"x2":{"datum":442.78},"y":{"datum":3.597,"type":"quantitative"}}},
{"data":{"values":[{}]},"mark":{"type":"rect","cornerRadius":4,"stroke":"#5c5c92","strokeWidth":1,"fill":{"gradient":"linear","x1":0,"y1":0,"x2":0,"y2":1,"stops":[{"offset":0,"color":"#4a4a62"},{"offset":0.38,"color":"#3c3c6a"},{"offset":0.7,"color":"#2a2ab0"},{"offset":1,"color":"#1414e6"}]}},"encoding":{"x":{"datum":-58.62,"type":"quantitative"},"x2":{"datum":3.53},"y":{"datum":-8.213,"type":"quantitative"},"y2":{"datum":-9.27}}},
{"data":{"values":[{}]},"mark":{"type":"rect","cornerRadius":4,"stroke":"#7a7a7a","strokeWidth":1,"fill":{"gradient":"linear","x1":0,"y1":0,"x2":0,"y2":1,"stops":[{"offset":0,"color":"#707070"},{"offset":0.35,"color":"#5e5e5e"},{"offset":1,"color":"#4a4a4a"}]}},"encoding":{"x":{"datum":5.53,"type":"quantitative"},"x2":{"datum":69.49},"y":{"datum":-8.213,"type":"quantitative"},"y2":{"datum":-9.27}}},
{"data":{"values":[{}]},"mark":{"type":"rect","cornerRadius":3,"fill":"#1c1cf0"},"encoding":{"x":{"datum":-57.22,"type":"quantitative"},"x2":{"datum":-45.99},"y":{"datum":-8.259,"type":"quantitative"},"y2":{"datum":-8.578}}},
{"data":{"values":[{}]},"mark":{"type":"rect","cornerRadius":3,"fill":"#07073c"},"encoding":{"x":{"datum":-18.32,"type":"quantitative"},"x2":{"datum":2.13},"y":{"datum":-8.259,"type":"quantitative"},"y2":{"datum":-8.563}}},
{"data":{"values":[{}]},"mark":{"type":"rect","cornerRadius":3,"fill":"#2ee82e"},"encoding":{"x":{"datum":6.13,"type":"quantitative"},"x2":{"datum":18.16},"y":{"datum":-8.243,"type":"quantitative"},"y2":{"datum":-8.517}}},
{"data":{"values":[{}]},"mark":{"type":"rect","cornerRadius":3,"fill":"#0a160a"},"encoding":{"x":{"datum":46.23,"type":"quantitative"},"x2":{"datum":67.88},"y":{"datum":-8.259,"type":"quantitative"},"y2":{"datum":-8.548}}},
{"data":{"values":[{}]},"mark":{"type":"rect","cornerRadius":2,"stroke":"#3a3a3a","strokeWidth":1,"fill":{"gradient":"linear","x1":0,"y1":0,"x2":0,"y2":1,"stops":[{"offset":0,"color":"#6b6f79"},{"offset":0.4,"color":"#50535c"},{"offset":1,"color":"#3d4048"}]}},"encoding":{"x":{"datum":316.88,"type":"quantitative"},"x2":{"datum":389.05},"y":{"datum":-8.213,"type":"quantitative"},"y2":{"datum":-9.27}}},
{"data":{"values":[{}]},"mark":{"type":"rect","cornerRadius":2,"stroke":"#3a3a3a","strokeWidth":1,"fill":{"gradient":"linear","x1":0,"y1":0,"x2":0,"y2":1,"stops":[{"offset":0,"color":"#6b6f79"},{"offset":0.4,"color":"#50535c"},{"offset":1,"color":"#3d4048"}]}},"encoding":{"x":{"datum":390.66,"type":"quantitative"},"x2":{"datum":452.9},"y":{"datum":-8.213,"type":"quantitative"},"y2":{"datum":-9.27}}},
{"data":{"values":[{}]},"mark":{"type":"rect","stroke":"#555555","strokeWidth":1,"fill":{"gradient":"linear","x1":0,"y1":0,"x2":0,"y2":1,"stops":[{"offset":0,"color":"#f2f2f2"},{"offset":1,"color":"#c8c8c8"}]}},"encoding":{"x":{"datum":316.88,"type":"quantitative"},"x2":{"datum":389.05},"y":{"datum":-8.213,"type":"quantitative"},"y2":{"datum":-8.563}}},
{"data":{"values":[{}]},"mark":{"type":"rect","stroke":"#555555","strokeWidth":1,"fill":{"gradient":"linear","x1":0,"y1":0,"x2":0,"y2":1,"stops":[{"offset":0,"color":"#f2f2f2"},{"offset":1,"color":"#c8c8c8"}]}},"encoding":{"x":{"datum":390.66,"type":"quantitative"},"x2":{"datum":452.9},"y":{"datum":-8.213,"type":"quantitative"},"y2":{"datum":-8.563}}},
{"data":{"values":[{}]},"mark":{"type":"rect","cornerRadius":5,"fill":"#0c0c0c"},"encoding":{"x":{"datum":426.74,"type":"quantitative"},"x2":{"datum":437.97},"y":{"datum":-8.259,"type":"quantitative"},"y2":{"datum":-8.548}}},
{"data":{"values":[{}]},"mark":{"type":"rect","cornerRadius":5,"fill":"#0c0c0c"},"encoding":{"x":{"datum":438.77,"type":"quantitative"},"x2":{"datum":451.2},"y":{"datum":-8.259,"type":"quantitative"},"y2":{"datum":-8.548}}},
{"data":{"values":[{"s":"C3"}]},"mark":{"type":"text","fontSize":16,"align":"center","baseline":"middle","color":"#2a2ab8"},"encoding":{"x":{"datum":-51.6,"type":"quantitative"},"y":{"datum":-8.418,"type":"quantitative"},"text":{"field":"s"}}},
{"data":{"values":[{"s":"DC1M"}]},"mark":{"type":"text","fontSize":15,"fontWeight":"bold","align":"center","baseline":"middle","color":"#2d2da8"},"encoding":{"x":{"datum":-8.1,"type":"quantitative"},"y":{"datum":-8.411,"type":"quantitative"},"text":{"field":"s"}}},
{"data":{"values":[{"s":"C4"}]},"mark":{"type":"text","fontSize":17,"align":"center","baseline":"middle","color":"#0d3d0d"},"encoding":{"x":{"datum":11.95,"type":"quantitative"},"y":{"datum":-8.38,"type":"quantitative"},"text":{"field":"s"}}},
{"data":{"values":[{"s":"AC1M"}]},"mark":{"type":"text","fontSize":15,"align":"center","baseline":"middle","color":"#3ee83e"},"encoding":{"x":{"datum":57.06,"type":"quantitative"},"y":{"datum":-8.403,"type":"quantitative"},"text":{"field":"s"}}},
{"data":{"values":[{"s":"1.00 V/div"}]},"mark":{"type":"text","fontSize":18,"align":"right","baseline":"middle","color":"#ffffff"},"encoding":{"x":{"datum":2.93,"type":"quantitative"},"y":{"datum":-8.86,"type":"quantitative"},"text":{"field":"s"}}},
{"data":{"values":[{"s":"-2.890 V ofst"}]},"mark":{"type":"text","fontSize":18,"align":"right","baseline":"middle","color":"#ffffff"},"encoding":{"x":{"datum":2.93,"type":"quantitative"},"y":{"datum":-9.165,"type":"quantitative"},"text":{"field":"s"}}},
{"data":{"values":[{"s":"200 mV/div"}]},"mark":{"type":"text","fontSize":18,"align":"right","baseline":"middle","color":"#ffffff"},"encoding":{"x":{"datum":68.28,"type":"quantitative"},"y":{"datum":-8.86,"type":"quantitative"},"text":{"field":"s"}}},
{"data":{"values":[{"s":"452.0 mV"}]},"mark":{"type":"text","fontSize":18,"align":"right","baseline":"middle","color":"#ffffff"},"encoding":{"x":{"datum":68.28,"type":"quantitative"},"y":{"datum":-9.165,"type":"quantitative"},"text":{"field":"s"}}},
{"data":{"values":[{"s":"Timebase"}]},"mark":{"type":"text","fontSize":19,"align":"left","baseline":"middle","color":"#151515"},"encoding":{"x":{"datum":318.48,"type":"quantitative"},"y":{"datum":-8.403,"type":"quantitative"},"text":{"field":"s"}}},
{"data":{"values":[{"s":"-200 ns"}]},"mark":{"type":"text","fontSize":19,"align":"right","baseline":"middle","color":"#151515"},"encoding":{"x":{"datum":388.25,"type":"quantitative"},"y":{"datum":-8.403,"type":"quantitative"},"text":{"field":"s"}}},
{"data":{"values":[{"s":"50.0 ns/div"}]},"mark":{"type":"text","fontSize":19,"align":"right","baseline":"middle","color":"#ffffff"},"encoding":{"x":{"datum":388.25,"type":"quantitative"},"y":{"datum":-8.77,"type":"quantitative"},"text":{"field":"s"}}},
{"data":{"values":[{"s":"2.50 kS"}]},"mark":{"type":"text","fontSize":19,"align":"left","baseline":"middle","color":"#ffffff"},"encoding":{"x":{"datum":318.48,"type":"quantitative"},"y":{"datum":-9.13,"type":"quantitative"},"text":{"field":"s"}}},
{"data":{"values":[{"s":"5.0 GS/s"}]},"mark":{"type":"text","fontSize":19,"align":"right","baseline":"middle","color":"#ffffff"},"encoding":{"x":{"datum":388.25,"type":"quantitative"},"y":{"datum":-9.13,"type":"quantitative"},"text":{"field":"s"}}},
{"data":{"values":[{"s":"Trigger"}]},"mark":{"type":"text","fontSize":19,"align":"left","baseline":"middle","color":"#151515"},"encoding":{"x":{"datum":392.26,"type":"quantitative"},"y":{"datum":-8.403,"type":"quantitative"},"text":{"field":"s"}}},
{"data":{"values":[{"s":"C4"}]},"mark":{"type":"text","fontSize":15,"fontWeight":"bold","align":"center","baseline":"middle","color":"#ffffff"},"encoding":{"x":{"datum":432.36,"type":"quantitative"},"y":{"datum":-8.403,"type":"quantitative"},"text":{"field":"s"}}},
{"data":{"values":[{"s":"DC"}]},"mark":{"type":"text","fontSize":15,"fontWeight":"bold","align":"center","baseline":"middle","color":"#ffffff"},"encoding":{"x":{"datum":444.99,"type":"quantitative"},"y":{"datum":-8.403,"type":"quantitative"},"text":{"field":"s"}}},
{"data":{"values":[{"s":"Normal"}]},"mark":{"type":"text","fontSize":19,"align":"left","baseline":"middle","color":"#ffffff"},"encoding":{"x":{"datum":392.26,"type":"quantitative"},"y":{"datum":-8.77,"type":"quantitative"},"text":{"field":"s"}}},
{"data":{"values":[{"s":"-26 mV"}]},"mark":{"type":"text","fontSize":19,"align":"right","baseline":"middle","color":"#ffffff"},"encoding":{"x":{"datum":451.2,"type":"quantitative"},"y":{"datum":-8.77,"type":"quantitative"},"text":{"field":"s"}}},
{"data":{"values":[{"s":"Edge"}]},"mark":{"type":"text","fontSize":19,"align":"left","baseline":"middle","color":"#ffffff"},"encoding":{"x":{"datum":392.26,"type":"quantitative"},"y":{"datum":-9.13,"type":"quantitative"},"text":{"field":"s"}}},
{"data":{"values":[{"s":"Positive"}]},"mark":{"type":"text","fontSize":19,"align":"right","baseline":"middle","color":"#ffffff"},"encoding":{"x":{"datum":451.2,"type":"quantitative"},"y":{"datum":-9.13,"type":"quantitative"},"text":{"field":"s"}}}
]},
{"data":{"name":"table"},"layer":[
{"transform":[{"filter":"datum.r == 0"}],"mark":{"type":"text","fontSize":19,"fontWeight":"bold","align":"left","baseline":"middle","color":"#1a1a1a"},"encoding":{"x":{"datum":-58.42,"type":"quantitative","scale":{"domain":[-63.23,453.21],"nice":false,"zero":false}},"y":{"field":"r","type":"quantitative","scale":{"domain":[-21.892,12.317],"reverse":true,"nice":false,"zero":false}},"text":{"field":"lab"}}},
{"transform":[{"filter":"datum.r > 0"}],"mark":{"type":"text","fontSize":19,"align":"left","baseline":"middle","color":"#1a1a1a"},"encoding":{"x":{"datum":-58.42,"type":"quantitative"},"y":{"field":"r","type":"quantitative"},"text":{"field":"lab"}}},
{"transform":[{"filter":"isValid(datum.p1)"}],"mark":{"type":"text","fontSize":19,"align":"right","baseline":"middle"},"encoding":{"x":{"datum":86.33,"type":"quantitative"},"y":{"field":"r","type":"quantitative"},"text":{"field":"p1"},"color":{"condition":{"test":"datum.r == 7","value":"#555555"},"value":"#1a1a1a"}}},
{"transform":[{"filter":"isValid(datum.p2)"}],"mark":{"type":"text","fontSize":19,"align":"right","baseline":"middle"},"encoding":{"x":{"datum":159.7,"type":"quantitative"},"y":{"field":"r","type":"quantitative"},"text":{"field":"p2"},"color":{"condition":{"test":"datum.r == 7","value":"#555555"},"value":"#1a1a1a"}}},
{"transform":[{"filter":"isValid(datum.p3)"}],"mark":{"type":"text","fontSize":19,"align":"left","baseline":"middle","color":"#1a1a1a"},"encoding":{"x":{"datum":181.76,"type":"quantitative"},"y":{"field":"r","type":"quantitative"},"text":{"field":"p3"}}},
{"transform":[{"filter":"isValid(datum.p4)"}],"mark":{"type":"text","fontSize":19,"align":"left","baseline":"middle","color":"#1a1a1a"},"encoding":{"x":{"datum":264.35,"type":"quantitative"},"y":{"field":"r","type":"quantitative"},"text":{"field":"p4"}}},
{"transform":[{"filter":"isValid(datum.p5)"}],"mark":{"type":"text","fontSize":19,"align":"left","baseline":"middle","color":"#1a1a1a"},"encoding":{"x":{"datum":355.77,"type":"quantitative"},"y":{"field":"r","type":"quantitative"},"text":{"field":"p5"}}},
{"transform":[{"filter":"isValid(datum.p6)"}],"mark":{"type":"text","fontSize":19,"align":"left","baseline":"middle","color":"#1a1a1a"},"encoding":{"x":{"datum":428.3,"type":"quantitative"},"y":{"field":"r","type":"quantitative"},"text":{"field":"p6"}}}
]},
{"data":{"name":"hist"},"mark":{"type":"area","color":"#33e633","interpolate":"linear","opacity":1},"encoding":{"x":{"field":"b","type":"quantitative","scale":{"domain":[-48.75,273.25],"nice":false,"zero":false}},"y":{"field":"n","type":"quantitative","stack":null,"scale":{"domain":[-83,803],"nice":false,"zero":false}},"y2":{"datum":0},"detail":{"field":"h"}}}
]
}
